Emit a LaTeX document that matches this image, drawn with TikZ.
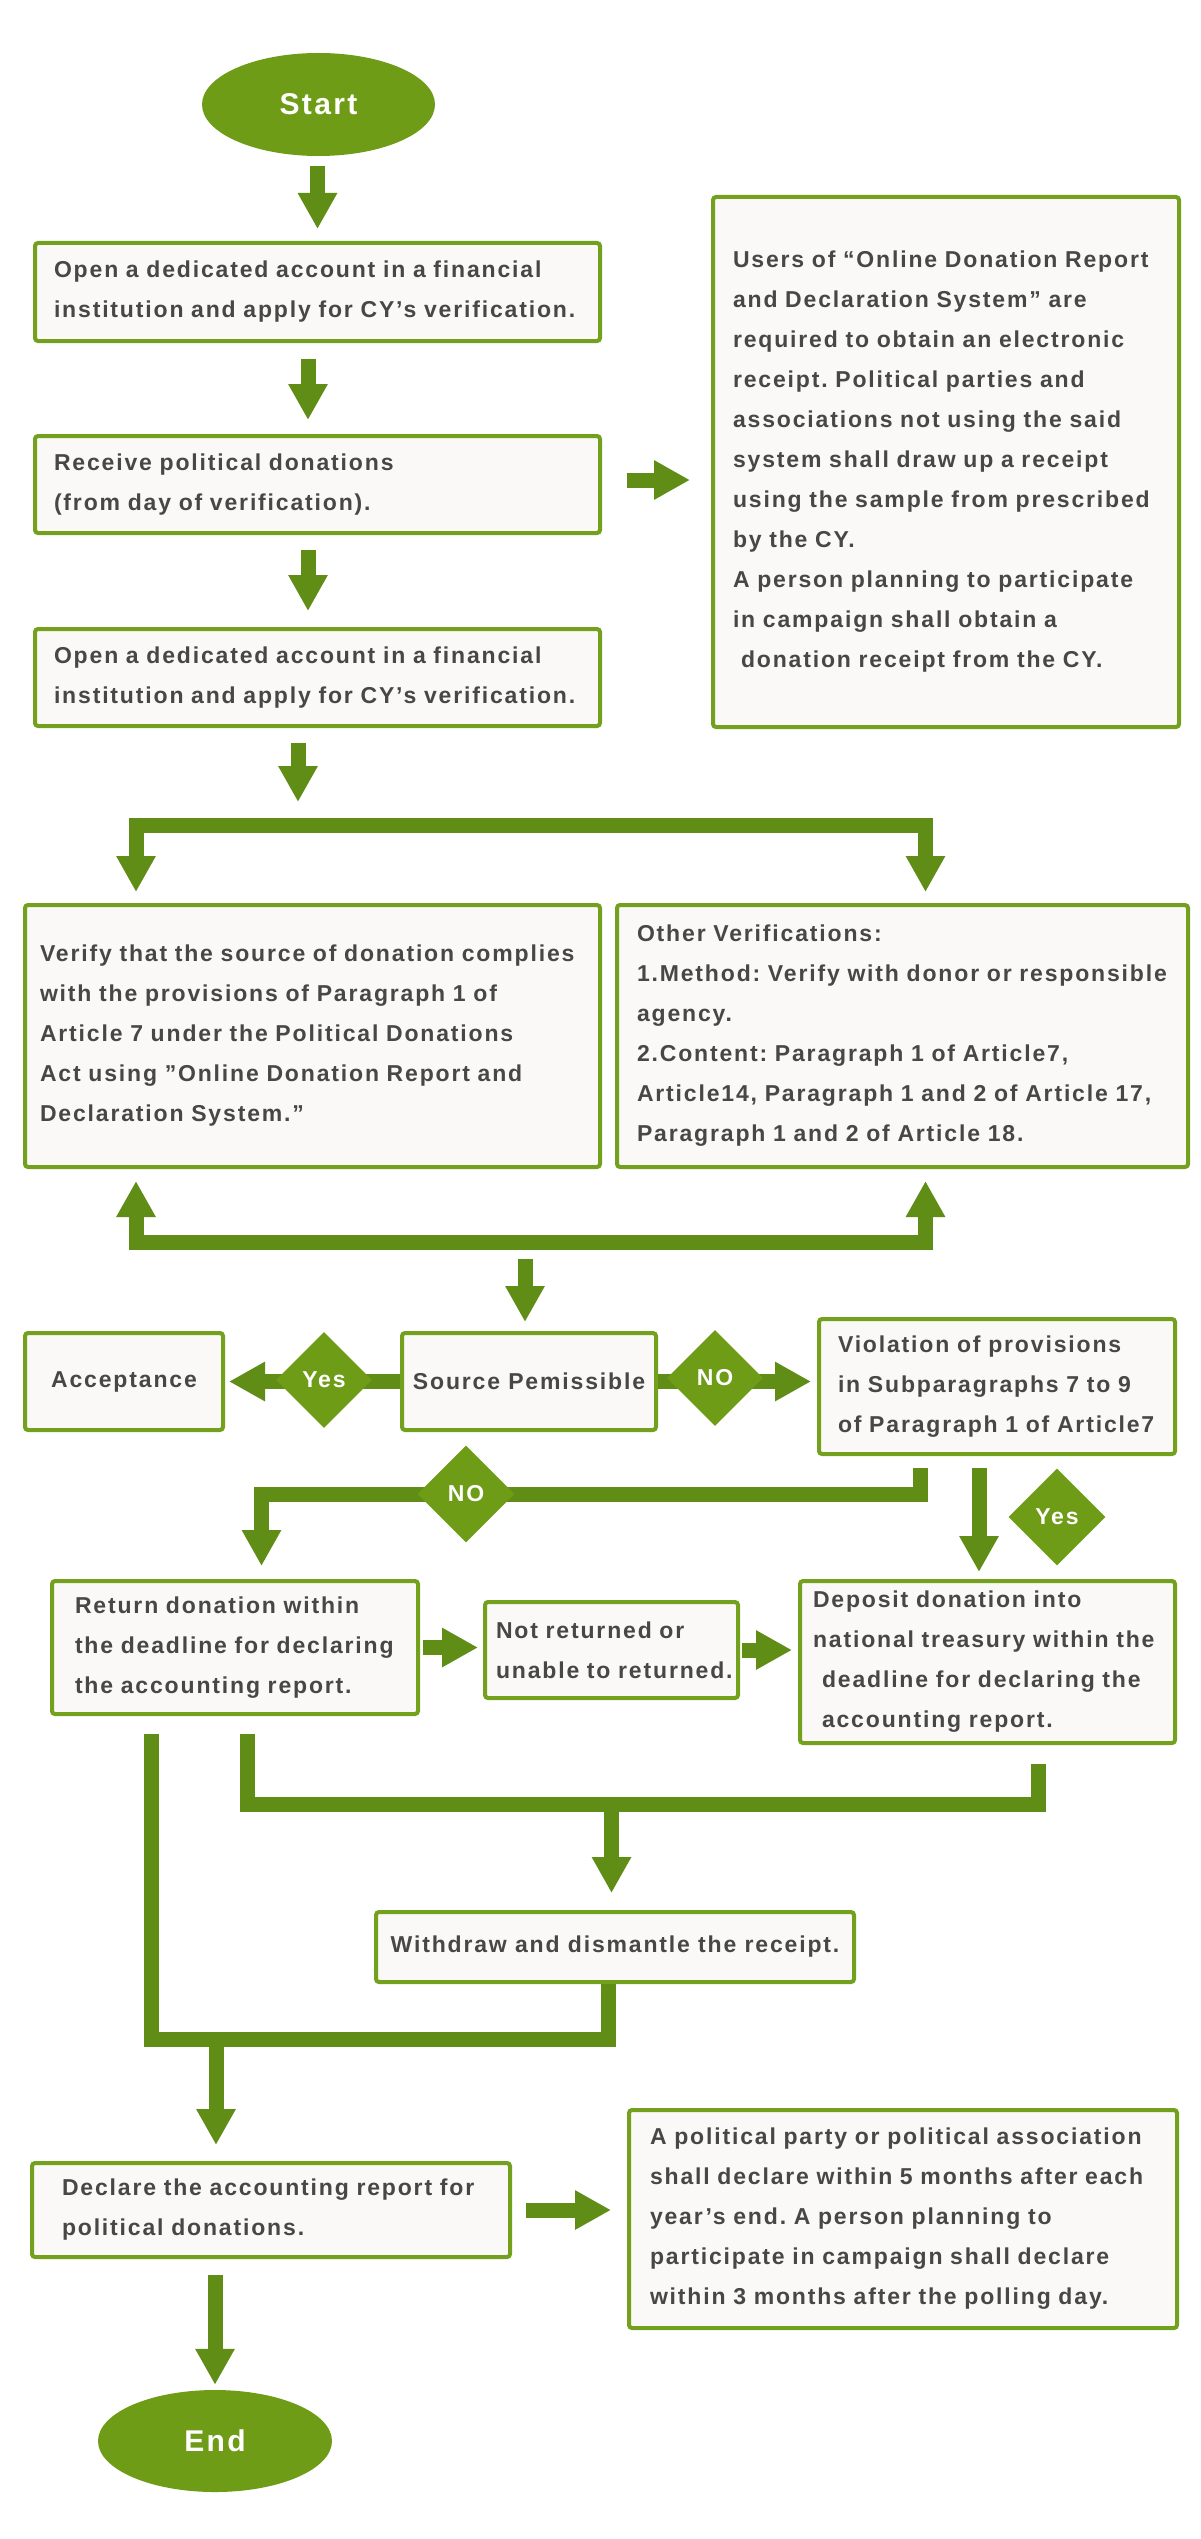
\documentclass[tikz,border=0pt]{standalone}
\usepackage{fontspec}
\usetikzlibrary {arrows.meta}
\usetikzlibrary {shapes.geometric}

\newfontfamily\boxfont{Liberation Sans}[LetterSpace=8]
\frenchspacing

\definecolor{nodegreen}{HTML}{6E9C16}
\definecolor{boxgreen}{HTML}{73A01D}
\definecolor{arrowgreen}{HTML}{5F8D16}
\definecolor{boxfill}{HTML}{FAF9F7}
\definecolor{textgray}{HTML}{474747}

\begin{document}
\begin{tikzpicture}[x=1pt, y=-1pt,
    bigtip/.tip={Triangle[length=36pt, width=37pt]},
    fat/.style={draw=arrowgreen, line width=15pt, line join=miter, -bigtip},
    bus/.style={draw=arrowgreen, line width=15pt, line join=miter},
    box/.style={draw=boxgreen, fill=boxfill, line width=4pt, rounded corners=3pt,
        text=textgray, anchor=north west, inner sep=0pt,
        font={\fontsize{23pt}{40pt}\boxfont\bfseries\frenchspacing}},
    leftbox/.style={box, align=left, execute at begin node={\leftskip=#1\relax}},
    midbox/.style={box, align=center},
    terminal/.style={ellipse, fill=nodegreen, text=white, inner sep=0pt,
        font={\fontsize{30pt}{36pt}\boxfont\bfseries}},
    choice/.style={diamond, fill=nodegreen, text=white, inner sep=0pt,
        minimum width=96pt, minimum height=96pt,
        font={\fontsize{23pt}{28pt}\boxfont\bfseries}}]

    \path[use as bounding box, fill=white] (0,0) rectangle (1200,2539);

    \coordinate (split) at (298,825.5);
    \coordinate (vl) at (136,825.5);
    \coordinate (vr) at (925.5,825.5);
    \coordinate (merge) at (525,1242.5);
    \coordinate (nobend) at (920.5,1494);
    \coordinate (noturn) at (261.5,1494);
    \coordinate (yesx) at (979,1517);
    \coordinate (gather) at (611.5,1804.5);
    \coordinate (rb) at (247,1804.5);
    \coordinate (db) at (1038,1804.5);
    \coordinate (join) at (216,2039.5);
    \coordinate (lb) at (151,2039.5);
    \coordinate (wb) at (608.5,2039.5);

    \node[terminal, minimum width=233pt, minimum height=103pt] (start) at (318.5,104.5) {Start};
    \node[leftbox=19pt, text width=565pt, minimum height=98pt] (open1) at (33,241)
        {Open a dedicated account in a financial\\institution and apply for CY’s verification.};
    \node[leftbox=19pt, text width=565pt, minimum height=97pt] (receive) at (33,434)
        {Receive political donations\\(from day of verification).};
    \node[leftbox=19pt, text width=565pt, minimum height=97pt] (open2) at (33,627)
        {Open a dedicated account in a financial\\institution and apply for CY’s verification.};
    \node[leftbox=20pt, text width=466pt, minimum height=530pt] (users) at (711,195)
        {Users of “Online Donation Report\\and Declaration System” are\\required to obtain an electronic\\receipt. Political parties and\\associations not using the said\\system shall draw up a receipt\\using the sample from prescribed\\by the CY.\\A person planning to participate\\in campaign shall obtain a\\\hspace*{8pt}donation receipt from the CY.};
    \node[leftbox=15pt, text width=575pt, minimum height=262pt] (verify) at (23,903)
        {Verify that the source of donation complies\\with the provisions of Paragraph 1 of\\Article 7 under the Political Donations\\Act using ”Online Donation Report and\\Declaration System.”};
    \node[leftbox=20pt, text width=571pt, minimum height=262pt] (other) at (615,903)
        {Other Verifications:\\1.Method: Verify with donor or responsible\\agency.\\2.Content: Paragraph 1 of Article7,\\Article14, Paragraph 1 and 2 of Article 17,\\Paragraph 1 and 2 of Article 18.};
    \node[midbox, minimum width=198pt, minimum height=97pt] (accept) at (23,1331) {Acceptance};
    \node[midbox, minimum width=254pt, minimum height=97pt] (source) at (400,1331) {Source Pemissible};
    \node[leftbox=19pt, text width=356pt, minimum height=135pt] (violation) at (817,1317)
        {Violation of provisions\\in Subparagraphs 7 to 9\\of Paragraph 1 of Article7};
    \node[leftbox=23pt, text width=366pt, minimum height=133pt] (return) at (50,1579)
        {Return donation within\\the deadline for declaring\\the accounting report.};
    \node[leftbox=11pt, text width=253pt, minimum height=96pt] (notret) at (483,1600)
        {Not returned or\\unable to returned.};
    \node[leftbox=13pt, text width=375pt, minimum height=162pt] (deposit) at (798,1579)
        {Deposit donation into\\national treasury within the\\\hspace*{9pt}deadline for declaring the\\\hspace*{9pt}accounting report.};
    \node[midbox, minimum width=478pt, minimum height=70pt] (withdraw) at (374,1910)
        {Withdraw and dismantle the receipt.};
    \node[leftbox=30pt, text width=478pt, minimum height=94pt] (declare) at (30,2161)
        {Declare the accounting report for\\political donations.};
    \node[leftbox=21pt, text width=548pt, minimum height=218pt] (notice) at (627,2108)
        {A political party or political association\\shall declare within 5 months after each\\year’s end. A person planning to\\participate in campaign shall declare\\within 3 months after the polling day.};
    \node[terminal, minimum width=234pt, minimum height=102pt] (stop) at (215,2441) {End};

    \draw[fat, shorten <=10pt, shorten >=12pt] (start.south -| open1.north) -- (open1.north);
    \draw[fat, shorten <=16pt, shorten >=14pt] ([xshift=-9.5pt]open1.south) -- ([xshift=-9.5pt]receive.north);
    \draw[fat, shorten <=15pt, shorten >=16pt] ([xshift=-9.5pt]receive.south) -- ([xshift=-9.5pt]open2.north);
    \draw[fat, shorten <=25pt, shorten >=21pt] ([yshift=4.5pt]receive.east) -- ([yshift=4.5pt]receive.east -| users.west);
    \draw[fat, shorten <=15pt, shorten >=23.5pt] (open2.south -| split) -- (split);
    \draw[bus, bigtip-bigtip, shorten <=11pt, shorten >=11pt]
        (verify.north -| vl) -- (vl) -- (vr) -- (other.north -| vr);
    \draw[bus, bigtip-bigtip, shorten <=12pt, shorten >=12pt]
        (verify.south -| vl) -- (vl |- merge) -- (vr |- merge) -- (other.south -| vr);
    \draw[fat, shorten <=16.5pt, shorten >=9pt] (merge) -- (merge |- source.north);
    \draw[fat, shorten >=4pt] (source.west) -- (source.west -| accept.east);
    \draw[fat, shorten >=6pt] (source.east) -- (source.east -| violation.west);
    \draw[fat, shorten <=12pt, shorten >=13pt]
        (violation.south -| nobend) -- (nobend) -- (noturn) -- (noturn |- return.north);
    \draw[fat, shorten <=12pt, shorten >=7pt] (violation.south -| yesx) -- (yesx |- deposit.north);
    \draw[fat, shorten <=3pt, shorten >=5pt] (return.east) -- (return.east -| notret.west);
    \draw[fat, shorten <=2pt, shorten >=6pt] (notret.east) -- (notret.east -| deposit.west);
    \draw[bus, shorten <=18pt, shorten >=19pt] (return.south -| rb) -- (rb) -- (db) -- (deposit.south -| db);
    \draw[fat, shorten >=17pt] (gather) -- (gather |- withdraw.north);
    \draw[bus, shorten <=18pt] (return.south -| lb) -- (lb) -- (wb) -- (withdraw.south -| wb);
    \draw[fat, shorten >=16pt] (join) -- (join |- declare.north);
    \draw[fat, shorten <=14pt, shorten >=16pt] (declare.east) -- (declare.east -| notice.west);
    \draw[fat, shorten <=16pt, shorten >=5pt] (declare.south -| stop.north) -- (stop.north);

    \node[choice] (yes1) at (324,1380) {Yes};
    \node[choice] (no1) at (715,1378) {NO};
    \node[choice, minimum width=97pt, minimum height=97pt] (no2) at (466,1494) {NO};
    \node[choice, minimum width=97pt, minimum height=97pt] (yes2) at (1057,1517) {Yes};
\end{tikzpicture}
\end{document}
